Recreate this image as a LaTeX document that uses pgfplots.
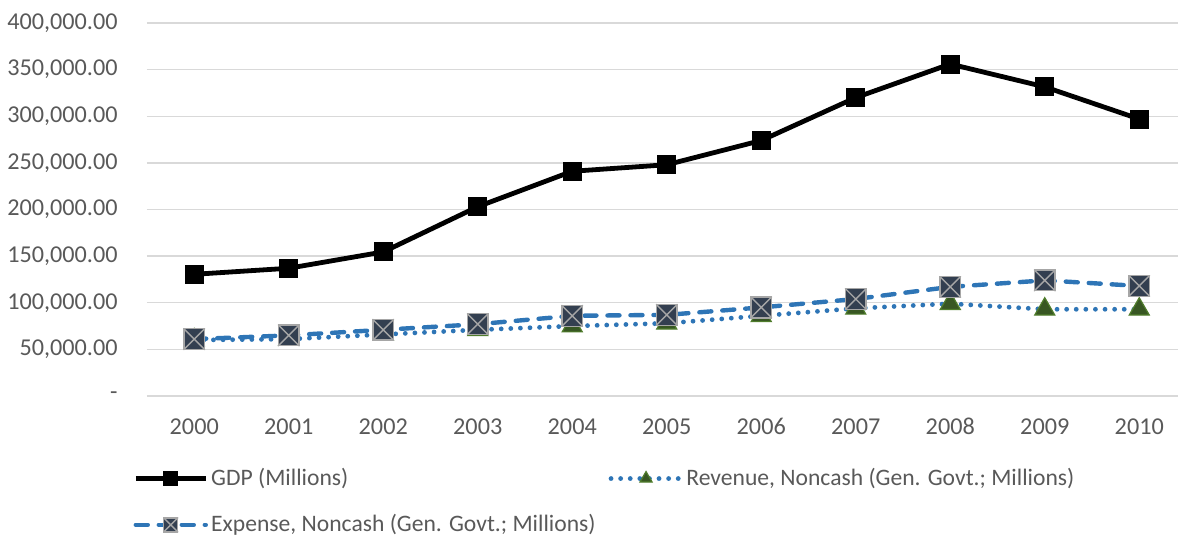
\documentclass[border=0pt]{standalone}
\usepackage{pgfplots}
\pgfplotsset{compat=1.18}
\usepackage{fontspec}
\setmainfont{Carlito}
\definecolor{txt}{HTML}{595959}
\definecolor{gridc}{HTML}{D9D9D9}
\definecolor{blu}{HTML}{2E75B6}
\definecolor{gfill}{HTML}{385723}
\definecolor{gdraw}{HTML}{507D2C}
\definecolor{xfill}{HTML}{333F50}
\definecolor{xgray}{HTML}{A6A6A6}
\pgfdeclareplotmark{xsq}{%
  \pgfpathrectangle{\pgfqpoint{-\pgfplotmarksize}{-\pgfplotmarksize}}{\pgfqpoint{2\pgfplotmarksize}{2\pgfplotmarksize}}%
  \pgfsetfillcolor{xfill}\pgfsetstrokecolor{xgray}%
  \pgfusepathqfillstroke
  \pgfpathmoveto{\pgfqpoint{-\pgfplotmarksize}{-\pgfplotmarksize}}%
  \pgfpathlineto{\pgfqpoint{\pgfplotmarksize}{\pgfplotmarksize}}%
  \pgfpathmoveto{\pgfqpoint{-\pgfplotmarksize}{\pgfplotmarksize}}%
  \pgfpathlineto{\pgfqpoint{\pgfplotmarksize}{-\pgfplotmarksize}}%
  \pgfusepathqstroke
}
\begin{document}
\begin{tikzpicture}
\useasboundingbox (0,0) rectangle (589pt,268pt);
\begin{axis}[
  at={(73.5pt,70pt)}, anchor=south west,
  scale only axis, width=515.5pt, height=186.5pt,
  xmin=-0.5, xmax=10.41, ymin=0, ymax=400000,
  scaled y ticks=false,
  axis line style={draw=none},
  major tick length=0pt,
  xtick={0,...,10},
  xticklabels={2000,2001,2002,2003,2004,2005,2006,2007,2008,2009,2010},
  ytick={0,50000,100000,150000,200000,250000,300000,350000,400000},
  yticklabels={{-\hspace{3.5pt}},{50,000.00},{100,000.00},{150,000.00},{200,000.00},{250,000.00},{300,000.00},{350,000.00},{400,000.00}},
  ymajorgrids, major grid style={gridc, line width=0.65pt},
  tick label style={font=\fontsize{12.1}{14}\selectfont, text=txt},
  yticklabel style={inner sep=0pt, xshift=-14.5pt},
  xticklabel style={inner sep=0pt, yshift=-11pt},
  legend columns=2,
  legend cell align=left,
  legend style={at={(axis description cs:-0.0136,-0.185)}, anchor=north west,
    draw=none, fill=none, inner sep=0pt,
    font=\fontsize{11.8}{13.5}\selectfont, text=txt,
    nodes={inner sep=1.5pt},
    /tikz/every even column/.append style={column sep=5pt},
    row sep=10pt},
  legend image code/.code={\draw[mark repeat=2,mark phase=2,mark size=3.5pt] plot coordinates {(0pt,0pt) (17.5pt,0pt) (35pt,0pt)};},
]
\addplot[black, line width=2.4pt, mark=square*, mark size=4.5pt, mark options={solid, line width=0.5pt}]
coordinates {(0,130500) (1,137000) (2,154500) (3,203000) (4,241000) (5,248000) (6,274000) (7,320000) (8,356000) (9,331500) (10,297000)};
\addlegendentry{GDP (Millions)}
\addplot[blu, line width=2.4pt, line cap=round, dash pattern=on 0pt off 4.8pt, mark=triangle*, mark size=5.8pt, mark options={solid, fill=gfill, draw=gdraw, line width=0.6pt}]
coordinates {(0,60000) (1,61000) (2,66000) (3,71000) (4,75000) (5,78000) (6,86000) (7,94000) (8,99000) (9,93000) (10,93000)};
\addlegendentry{Revenue, Noncash (Gen. Govt.; Millions)}
\addplot[blu, line width=2.2pt, line cap=round, dash pattern=on 6pt off 5.5pt, mark=xsq, mark size=5.2pt, mark options={solid, line width=0.7pt}]
coordinates {(0,61000) (1,65000) (2,71000) (3,77000) (4,86000) (5,87000) (6,95000) (7,104000) (8,117000) (9,124000) (10,118000)};
\addlegendentry{Expense, Noncash (Gen. Govt.; Millions)}
\end{axis}
\end{tikzpicture}
\end{document}
